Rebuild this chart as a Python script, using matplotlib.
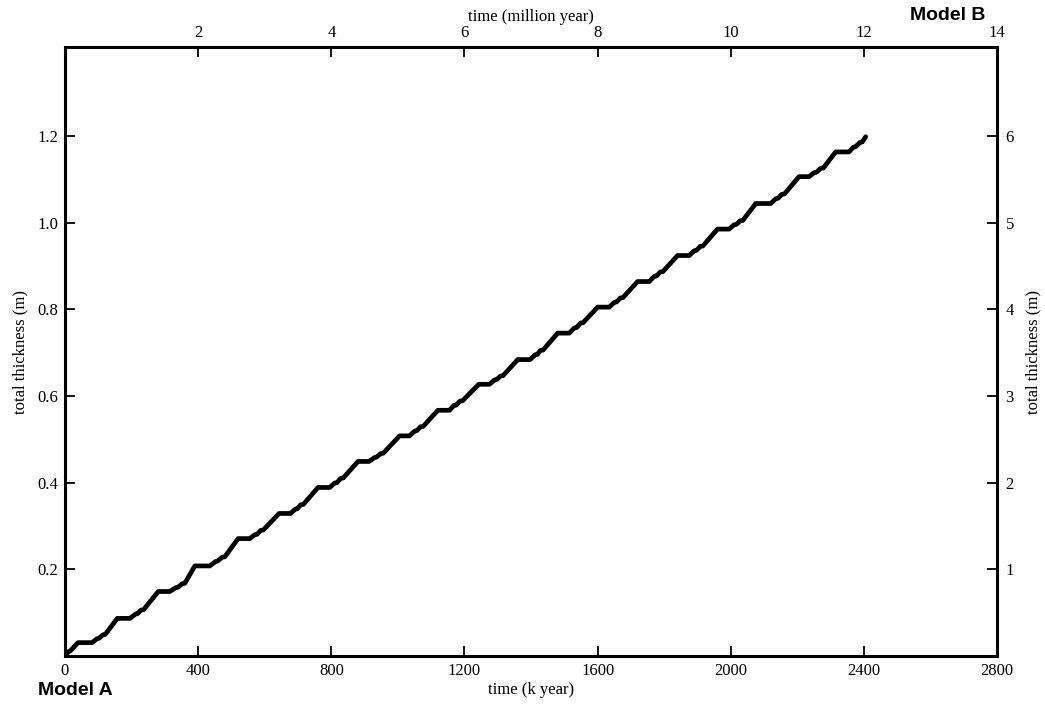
import matplotlib.pyplot as plt

plt.rcParams['font.family'] = 'Liberation Serif'

# time in k year, thickness in m (vertices)
time_k = [0, 10, 16, 39,
          81, 96, 102, 114, 121, 157,
          195, 212, 218, 228, 236, 280,
          315, 333, 340, 352, 360, 390,
          435, 452, 458, 472, 480, 520,
          555, 570, 577, 588, 596, 643,
          677, 692, 698, 708, 716, 760,
          795, 810, 817, 828, 836, 880,
          913, 930, 936, 948, 956, 1005,
          1035, 1050, 1057, 1068, 1076, 1120,
          1155, 1168, 1175, 1186, 1194, 1243,
          1275, 1290, 1297, 1308, 1316, 1360,
          1397, 1412, 1419, 1428, 1436, 1480,
          1515, 1530, 1537, 1548, 1556, 1600,
          1635, 1650, 1657, 1668, 1676, 1720,
          1755, 1770, 1777, 1788, 1796, 1840,
          1875, 1890, 1897, 1908, 1916, 1960,
          1995, 2010, 2017, 2028, 2036, 2075,
          2120, 2135, 2142, 2153, 2161, 2205,
          2235, 2250, 2257, 2270, 2278, 2315,
          2355, 2368, 2375, 2388, 2395, 2405]
thickness = [0, 0.010, 0.012, 0.031,
             0.031, 0.040, 0.041, 0.049, 0.050, 0.087,
             0.087, 0.097, 0.098, 0.106, 0.107, 0.149,
             0.149, 0.158, 0.159, 0.167, 0.168, 0.208,
             0.208, 0.218, 0.219, 0.228, 0.229, 0.271,
             0.271, 0.280, 0.281, 0.290, 0.291, 0.329,
             0.329, 0.339, 0.340, 0.349, 0.350, 0.389,
             0.389, 0.399, 0.400, 0.410, 0.411, 0.449,
             0.449, 0.458, 0.459, 0.467, 0.468, 0.508,
             0.508, 0.519, 0.520, 0.529, 0.530, 0.567,
             0.567, 0.578, 0.579, 0.588, 0.589, 0.627,
             0.627, 0.637, 0.638, 0.646, 0.647, 0.684,
             0.684, 0.695, 0.696, 0.705, 0.706, 0.745,
             0.745, 0.757, 0.758, 0.768, 0.769, 0.805,
             0.805, 0.816, 0.817, 0.826, 0.827, 0.864,
             0.864, 0.876, 0.877, 0.886, 0.887, 0.924,
             0.924, 0.935, 0.936, 0.945, 0.946, 0.985,
             0.985, 0.995, 0.996, 1.004, 1.005, 1.044,
             1.044, 1.055, 1.056, 1.065, 1.066, 1.106,
             1.106, 1.115, 1.116, 1.125, 1.126, 1.163,
             1.163, 1.174, 1.175, 1.185, 1.186, 1.198]

bottom_ticks = [0, 400, 800, 1200, 1600, 2000, 2400, 2800]
left_ticks = [0.2, 0.4, 0.6, 0.8, 1.0, 1.2]
top_ticks = [2, 4, 6, 8, 10, 12, 14]
right_ticks = [1, 2, 3, 4, 5, 6]

fig = plt.figure(figsize=(10.45, 7.07), dpi=100)
ax = fig.add_axes([0.0622, 0.072, 0.892, 0.8615])

ax.plot(time_k, thickness, color="black", linewidth=3.4,
        solid_joinstyle="round", solid_capstyle="round")

ax.set_xlim(0, 2800)
ax.set_ylim(0, 1.405)
ax.set_xticks(bottom_ticks)
ax.set_yticks(left_ticks)
ax.set_xticklabels([str(t) for t in bottom_ticks])
ax.set_yticklabels(["%.1f" % t for t in left_ticks])
ax.set_xlabel("time (k year)", fontsize=12, labelpad=2)
ax.set_ylabel("total thickness (m)", fontsize=12, labelpad=6)

for s in ax.spines.values():
    s.set_linewidth(2.2)
ax.tick_params(direction="in", length=7, width=1.3, labelsize=12, pad=5)

top = ax.secondary_xaxis("top", functions=(lambda x: x / 200, lambda x: x * 200))
top.set_xticks(top_ticks)
top.set_xticklabels([str(t) for t in top_ticks])
top.set_xlabel("time (million year)", fontsize=12, labelpad=3)
top.tick_params(direction="in", length=7, width=1.3, labelsize=12, pad=4)

right = ax.secondary_yaxis("right", functions=(lambda y: y * 5, lambda y: y / 5))
right.set_yticks(right_ticks)
right.set_yticklabels([str(t) for t in right_ticks])
right.set_ylabel("total thickness (m)", fontsize=12, labelpad=8)
right.tick_params(direction="in", length=7, width=1.3, labelsize=12, pad=6)

fig.text(0.036, 0.023, "Model A", fontsize=14, fontweight="bold",
         family="Liberation Sans", ha="left", va="center")
fig.text(0.943, 0.978, "Model B", fontsize=14, fontweight="bold",
         family="Liberation Sans", ha="right", va="center")

fig.savefig("out.png", dpi=100)
